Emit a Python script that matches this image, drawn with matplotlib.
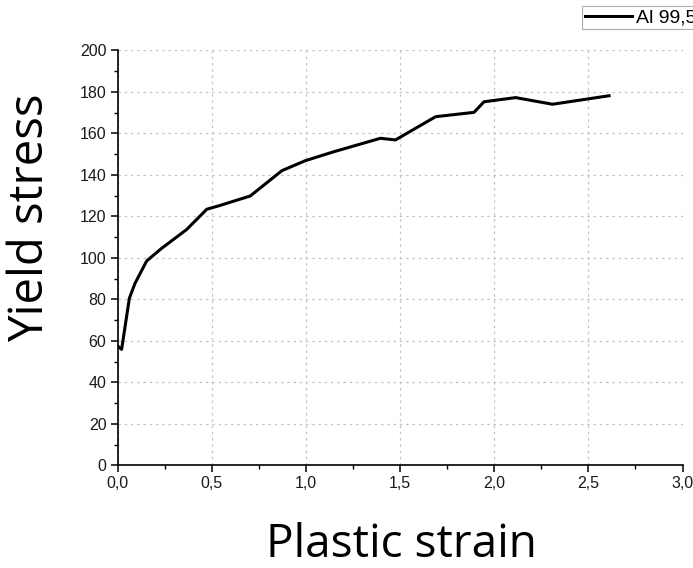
import numpy as np
import matplotlib
matplotlib.use('Agg')
import matplotlib.pyplot as plt
from matplotlib.ticker import MultipleLocator, FuncFormatter

# data
strain = [0.004, 0.022, 0.063, 0.093, 0.155, 0.235, 0.368, 0.474, 0.536, 0.705,
          0.873, 0.997, 1.148, 1.396, 1.476, 1.689, 1.893, 1.946, 2.114, 2.31, 2.61]
stress = [57.2, 55.9, 80.5, 87.7, 98.5, 104.6, 113.7, 123.4, 125.0, 129.8,
          142.0, 146.8, 151.1, 157.6, 156.8, 168.0, 170.1, 175.2, 177.2, 174.0, 178.1]
series_name = 'Al 99,5'

W, H = 693, 568
fig = plt.figure(figsize=(W / 100, H / 100), dpi=100)
ax = fig.add_axes([117.5 / W, 1 - 465.3 / H, 565 / W, 415 / H])

ax.plot(strain, stress, color='black', linewidth=2.2, label=series_name)

ax.set_xlim(0, 3.0)
ax.set_ylim(0, 200)
ax.xaxis.set_major_locator(MultipleLocator(0.5))
ax.xaxis.set_minor_locator(MultipleLocator(0.25))
ax.yaxis.set_major_locator(MultipleLocator(20))
ax.yaxis.set_minor_locator(MultipleLocator(10))
ax.xaxis.set_major_formatter(FuncFormatter(lambda v, p: f'{v:.1f}'.replace('.', ',')))
ax.yaxis.set_major_formatter(FuncFormatter(lambda v, p: f'{v:.0f}'))

for s in ['top', 'right']:
    ax.spines[s].set_visible(False)
for s in ['left', 'bottom']:
    ax.spines[s].set_linewidth(1.2)

ax.tick_params(which='major', direction='out', length=5, width=1.1,
               labelsize=11.5, labelcolor='#1a1a1a', pad=3)
ax.tick_params(which='minor', direction='out', length=3, width=1.0)
for lab in ax.get_xticklabels() + ax.get_yticklabels():
    lab.set_family('Liberation Sans')

ax.grid(True, which='major', linestyle=(0, (2, 3)), color='#c4c4c4', linewidth=0.9)
ax.set_axisbelow(True)

# big axis titles placed like the slide text
fig.text(401.5 / W, 1 - 557 / H, 'Plastic strain', fontsize=33, family='Open Sans',
         ha='center', va='baseline')
fig.text(30 / W, 1 - 218 / H, 'Yield stress', fontsize=34, family='Open Sans',
         rotation=90, ha='center', va='center')

leg = fig.legend(loc='upper left', bbox_to_anchor=(582 / W, 1 - 6 / H),
                 frameon=True, fancybox=False, edgecolor='#999999',
                 prop={'family': 'Liberation Sans', 'size': 14},
                 handlelength=2.4, handletextpad=0.25, borderpad=0.15,
                 borderaxespad=0)
leg.get_frame().set_linewidth(0.8)

fig.savefig('out.png', dpi=100)
